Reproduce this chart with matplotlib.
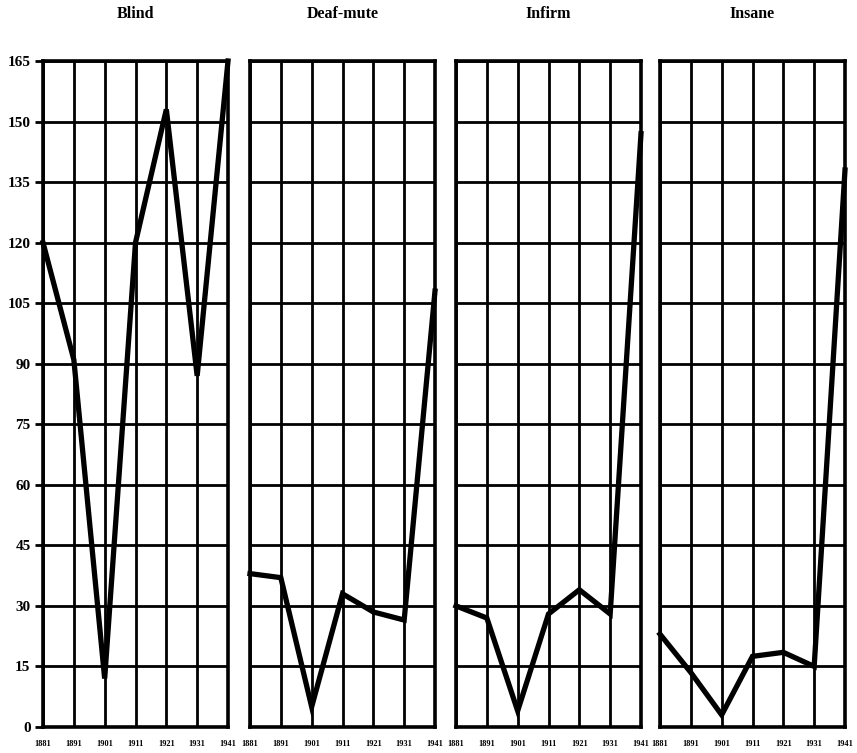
import matplotlib.pyplot as plt

# years on the x axis, same for every panel
years = [1881, 1891, 1901, 1911, 1921, 1931, 1941]
year_labels = ['1881', '1891', '1901', '1911', '1921', '1931', '1941']

# values
blind = [120, 91, 12, 120, 153, 87, 165]
deaf_mute = [38, 37, 5, 33, 28.5, 26.5, 108]
infirm = [30, 27, 4, 28, 34, 28, 147]
insane = [23, 13.5, 3, 17.5, 18.5, 15, 138]

titles = ['Blind', 'Deaf-mute', 'Infirm', 'Insane']
series = [blind, deaf_mute, infirm, insane]

y_ticks = list(range(0, 166, 15))

plt.rcParams['font.family'] = ['Liberation Serif', 'DejaVu Serif']

W, H = 857, 753
fig = plt.figure(figsize=(W / 100, H / 100), dpi=100)

lefts = [43, 250, 456, 660]
pw = 185
top, bottom = 61, 727

for i, (name, vals) in enumerate(zip(titles, series)):
    ax = fig.add_axes([lefts[i] / W, (H - bottom) / H, pw / W, (bottom - top) / H])
    ax.set_xlim(years[0], years[-1])
    ax.set_ylim(0, 165)
    ax.set_xticks(years)
    ax.set_yticks(y_ticks)
    ax.grid(True, color='black', linewidth=2)
    ax.set_axisbelow(True)
    for s in ax.spines.values():
        s.set_linewidth(2.6)
    ax.plot(years, vals, color='black', linewidth=3.8, clip_on=False,
            solid_joinstyle='miter', zorder=3)
    ax.set_xticklabels(year_labels, fontsize=6, fontweight='bold')
    ax.tick_params(axis='x', length=0, pad=9)
    if i == 0:
        ax.set_yticklabels([str(v) for v in y_ticks], fontsize=11, fontweight='bold')
        ax.tick_params(axis='y', length=6, width=2, pad=3)
    else:
        ax.tick_params(axis='y', length=0, labelleft=False)
    fig.text((lefts[i] + pw / 2) / W, 1 - 14 / H, name, ha='center', va='center',
             fontsize=11.5, fontweight='bold')

fig.savefig('out.png', dpi=100, facecolor='white')
